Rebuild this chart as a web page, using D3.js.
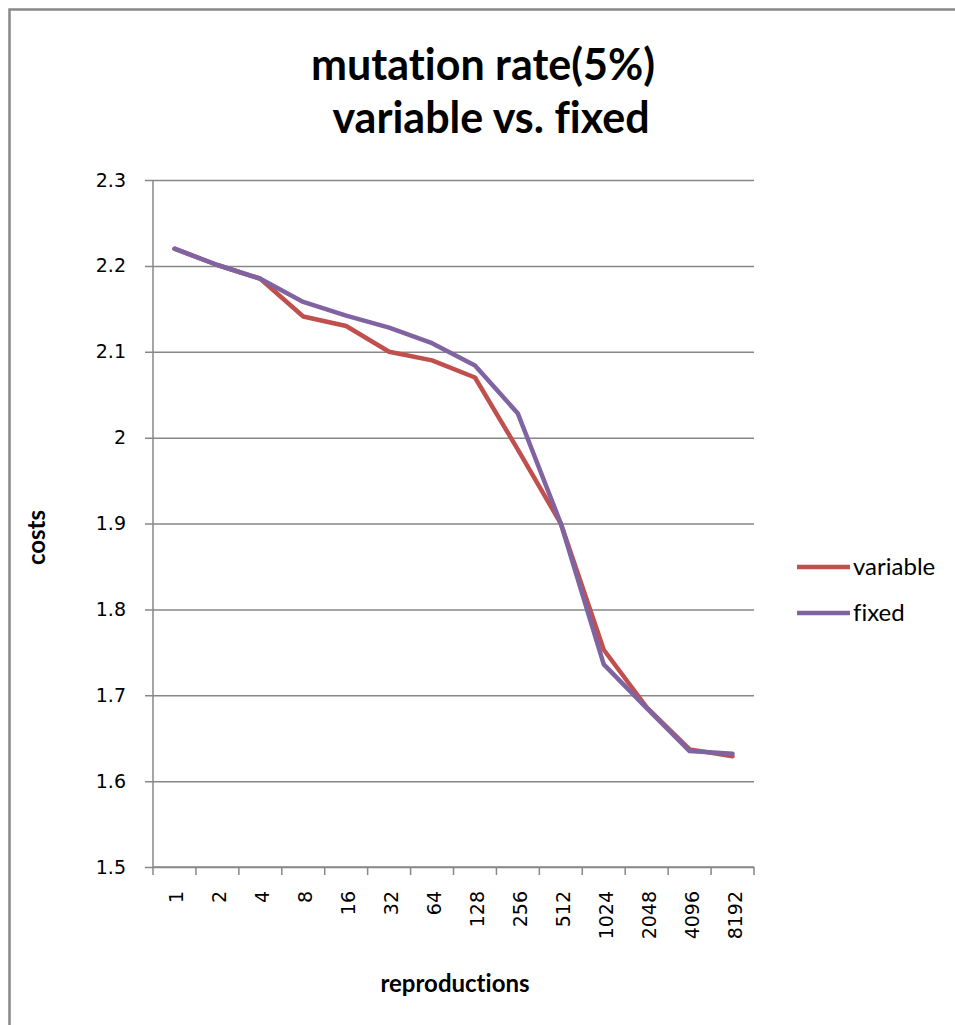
<!DOCTYPE html>
<html>
<head>
<meta charset="utf-8">
<script src="https://cdn.jsdelivr.net/npm/d3@7/dist/d3.min.js"></script>
<style>
  html, body { margin: 0; padding: 0; background: #fff; }
  svg { display: block; }
  .tick-label { font-family: "DejaVu Sans", Verdana, sans-serif; font-size: 19px; fill: #000; }
  .title, .axis-title, .legend-label { font-family: Lato, "Open Sans", sans-serif; fill: #000; font-variant-ligatures: none; }
</style>
</head>
<body>
<div id="chart"></div>
<script>
// Line chart: cost vs number of reproductions, variable vs fixed mutation rate.

const categories = ['1', '2', '4', '8', '16', '32', '64', '128', '256', '512', '1024', '2048', '4096', '8192'];
const variableCosts = [2.22, 2.201, 2.185, 2.141, 2.13, 2.10, 2.09, 2.07, 1.986, 1.90, 1.753, 1.686, 1.637, 1.629];
const fixedCosts = [2.22, 2.201, 2.185, 2.158, 2.142, 2.128, 2.11, 2.084, 2.028, 1.90, 1.736, 1.685, 1.635, 1.632];
const yTicks = [1.5, 1.6, 1.7, 1.8, 1.9, 2.0, 2.1, 2.2, 2.3];

const seriesList = [
  { name: 'variable', values: variableCosts, color: '#C0504D' },
  { name: 'fixed', values: fixedCosts, color: '#8064A2' },
];

const width = 955;
const height = 1025;
const plot = { left: 153, right: 754, top: 180, bottom: 867 };
const gridColor = '#878787';

const svg = d3.select('#chart').append('svg')
  .attr('width', width)
  .attr('height', height);

// chart frame (only top and left edges are visible in the crop)
svg.append('path')
  .attr('d', `M9.5,${height} L9.5,9.5 L${width},9.5`)
  .attr('fill', 'none')
  .attr('stroke', '#888')
  .attr('stroke-width', 2.5);

const x = d3.scaleBand().domain(categories).range([plot.left, plot.right]).padding(0);
const y = d3.scaleLinear().domain([1.5, 2.3]).range([plot.bottom, plot.top]);

// horizontal gridlines + y axis
const yAxis = d3.axisLeft(y)
  .tickValues(yTicks)
  .tickFormat((d) => (d === 2 ? '2' : d3.format('.1f')(d)))
  .tickSize(-(plot.right - plot.left))
  .tickPadding(27);

const yAxisG = svg.append('g')
  .attr('transform', `translate(${plot.left},0)`)
  .call(yAxis);
yAxisG.select('.domain').remove();
yAxisG.selectAll('.tick line')
  .attr('x1', -8)
  .attr('stroke', gridColor)
  .attr('stroke-width', 1.5);
yAxisG.selectAll('.tick text').attr('class', 'tick-label');

svg.append('line')
  .attr('x1', plot.left).attr('x2', plot.left)
  .attr('y1', plot.top).attr('y2', plot.bottom)
  .attr('stroke', gridColor)
  .attr('stroke-width', 1.5);

// x axis: ticks sit on the category boundaries
const boundaries = categories.map((c) => x(c)).concat([plot.right]);
const xAxisG = svg.append('g');
xAxisG.append('line')
  .attr('x1', plot.left).attr('x2', plot.right)
  .attr('y1', plot.bottom).attr('y2', plot.bottom)
  .attr('stroke', gridColor)
  .attr('stroke-width', 1.5);
xAxisG.selectAll('.xtick')
  .data(boundaries)
  .join('line')
  .attr('class', 'xtick')
  .attr('x1', (d) => d).attr('x2', (d) => d)
  .attr('y1', plot.bottom).attr('y2', plot.bottom + 8)
  .attr('stroke', gridColor)
  .attr('stroke-width', 1.5);
xAxisG.selectAll('.xlabel')
  .data(categories)
  .join('text')
  .attr('class', 'tick-label')
  .attr('text-anchor', 'end')
  .attr('transform', (d) => `translate(${x(d) + x.bandwidth() / 2 + 9},${plot.bottom + 24}) rotate(-90)`)
  .text((d) => d);

// series lines
const line = d3.line()
  .x((d, i) => x(categories[i]) + x.bandwidth() / 2)
  .y((d) => y(d));

svg.append('g')
  .selectAll('path')
  .data(seriesList)
  .join('path')
  .attr('d', (s) => line(s.values))
  .attr('fill', 'none')
  .attr('stroke', (s) => s.color)
  .attr('stroke-width', 4.5)
  .attr('stroke-linejoin', 'round')
  .attr('stroke-linecap', 'round');

// title
const title = svg.append('text')
  .attr('class', 'title')
  .attr('text-anchor', 'middle')
  .attr('font-size', 43)
  .attr('font-weight', 'bold');
title.append('tspan').attr('x', 483).attr('y', 80).text('mutation rate(5%)');
title.append('tspan').attr('x', 491).attr('y', 133).text('variable vs. fixed');

// axis titles
svg.append('text')
  .attr('class', 'axis-title')
  .attr('font-size', 24)
  .attr('font-weight', 'bold')
  .attr('text-anchor', 'middle')
  .attr('transform', `translate(45,${(plot.top + plot.bottom) / 2 + 14}) rotate(-90)`)
  .text('costs');

svg.append('text')
  .attr('class', 'axis-title')
  .attr('font-size', 24)
  .attr('font-weight', 'bold')
  .attr('text-anchor', 'middle')
  .attr('x', 455)
  .attr('y', 992)
  .text('reproductions');

// legend
const legend = svg.append('g')
  .selectAll('g')
  .data(seriesList)
  .join('g')
  .attr('transform', (d, i) => `translate(797,${567 + i * 46})`);
legend.append('line')
  .attr('x1', 0).attr('x2', 53)
  .attr('stroke', (d) => d.color)
  .attr('stroke-width', 4.5);
legend.append('text')
  .attr('class', 'legend-label')
  .attr('x', 56)
  .attr('y', 8)
  .attr('font-size', 24)
  .text((d) => d.name);
</script>
</body>
</html>
